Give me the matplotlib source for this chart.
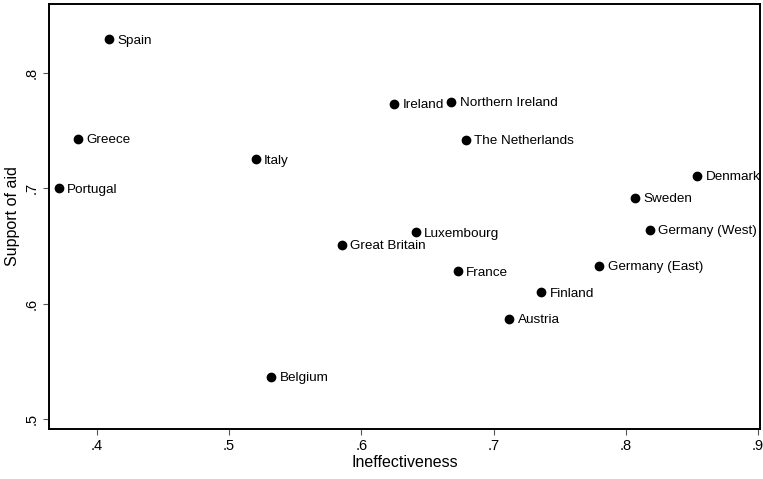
import matplotlib.pyplot as plt

countries = ['Spain', 'Greece', 'Portugal', 'Italy', 'Ireland', 'Northern Ireland',
             'The Netherlands', 'Luxembourg', 'Great Britain', 'France', 'Belgium',
             'Austria', 'Finland', 'Germany (East)', 'Germany (West)', 'Sweden', 'Denmark']
ineffectiveness = [0.409, 0.386, 0.371, 0.520, 0.625, 0.668,
                   0.679, 0.641, 0.585, 0.673, 0.532,
                   0.712, 0.736, 0.780, 0.818, 0.807, 0.854]
support = [0.829, 0.743, 0.700, 0.725, 0.773, 0.775,
           0.742, 0.662, 0.651, 0.628, 0.537,
           0.587, 0.610, 0.633, 0.664, 0.692, 0.711]

x_ticks = [0.4, 0.5, 0.6, 0.7, 0.8, 0.9]
x_labels = ['.4', '.5', '.6', '.7', '.8', '.9']
y_ticks = [0.5, 0.6, 0.7, 0.8]
y_labels = ['.5', '.6', '.7', '.8']

plt.rcParams['font.family'] = ['Liberation Sans', 'DejaVu Sans']

fig = plt.figure(figsize=(7.63, 4.79), dpi=100)
ax = fig.add_axes([0.0642, 0.1044, 0.9318, 0.8872])

ax.scatter(ineffectiveness, support, s=36, color='black', zorder=3)
for name, x, y in zip(countries, ineffectiveness, support):
    ax.annotate(name, (x, y), xytext=(6, -1), textcoords='offset points',
                ha='left', va='center', fontsize=9.7)

ax.set_xlim(0.3637, 0.9015)
ax.set_ylim(0.4916, 0.8595)
ax.set_xticks(x_ticks)
ax.set_xticklabels(x_labels, fontsize=10.5)
ax.set_yticks(y_ticks)
ax.set_yticklabels(y_labels, fontsize=10.5, rotation=90, va='center')
ax.tick_params(direction='out', length=4, width=0.8, color='#555555')
ax.set_xlabel('Ineffectiveness', fontsize=11.5, labelpad=1)
ax.set_ylabel('Support of aid', fontsize=11.5, labelpad=3)
for s in ax.spines.values():
    s.set_linewidth(1.4)

fig.savefig('out.png', dpi=100)
